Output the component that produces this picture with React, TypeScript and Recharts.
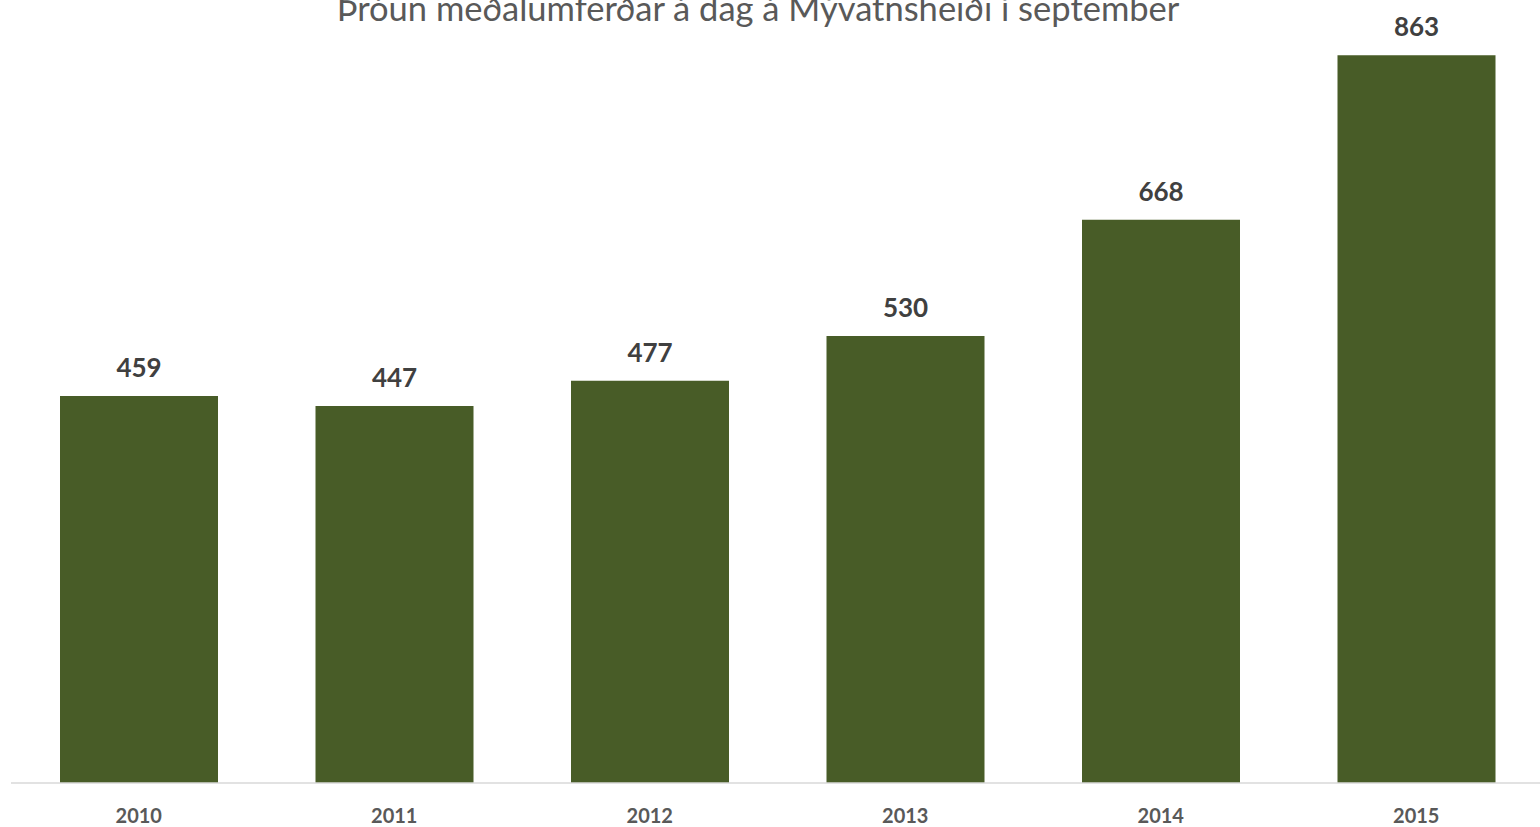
import { BarChart, Bar, XAxis, YAxis, LabelList } from 'recharts';

const years = ['2010', '2011', '2012', '2013', '2014', '2015'];
const traffic = [459, 447, 477, 530, 668, 863];

const rows = years.map((year, i) => ({ year, value: traffic[i] }));

const font = 'Lato, "Open Sans", sans-serif';

export default function App() {
  return (
    <div
      style={{
        position: 'absolute',
        left: 0,
        top: 0,
        width: 1540,
        height: 827,
        overflow: 'hidden',
        background: '#fff',
        fontFamily: font,
      }}
    >
      <div
        style={{
          position: 'absolute',
          left: 0,
          width: 1516,
          top: -12,
          textAlign: 'center',
          fontSize: 34.5,
          color: '#595959',
          lineHeight: '40px',
          whiteSpace: 'nowrap',
        }}
      >
        Þróun meðalumferðar á dag á Mývatnsheiði í september
      </div>
      <BarChart
        width={1544}
        height={827}
        data={rows}
        margin={{ top: 24, right: 0, left: 11, bottom: 0 }}
      >
        <XAxis
          dataKey="year"
          height={44}
          tickLine={false}
          tickSize={0}
          tickMargin={26}
          axisLine={{ stroke: '#d9d9d9', strokeWidth: 1.5 }}
          tick={{ fill: '#595959', fontSize: 20, fontWeight: 700, fontFamily: font }}
        />
        <YAxis hide domain={[0, 900]} />
        <Bar dataKey="value" fill="#485c27" barSize={158} isAnimationActive={false}>
          <LabelList
            dataKey="value"
            position="top"
            offset={19}
            fill="#404040"
            fontSize={26}
            fontWeight={700}
            fontFamily={font}
          />
        </Bar>
      </BarChart>
    </div>
  );
}
